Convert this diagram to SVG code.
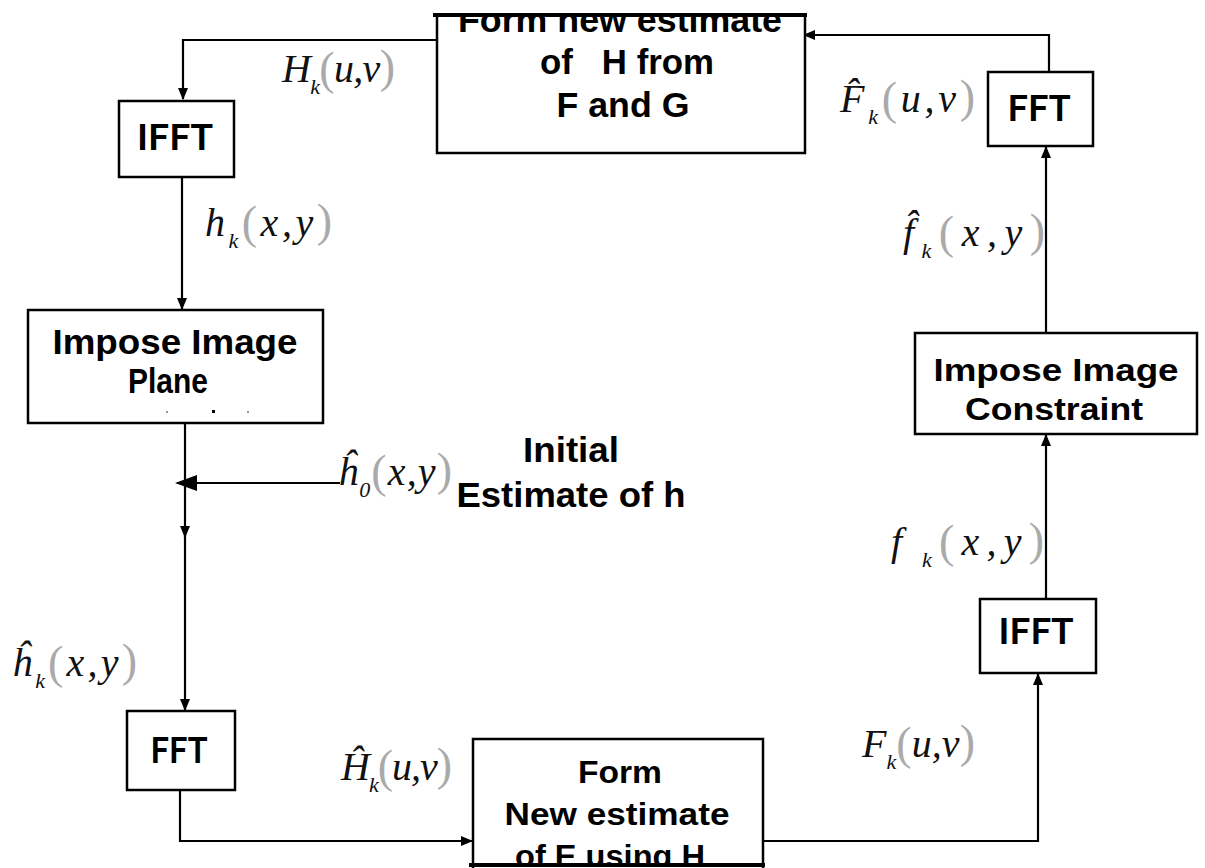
<svg xmlns="http://www.w3.org/2000/svg" width="1205" height="868" viewBox="0 0 1205 868">
<style>
.box{fill:#fff;stroke:#000;stroke-width:2.5}
.lbl{font-family:"Liberation Sans",Arial,sans-serif;font-weight:bold;font-size:35px;fill:#000}
.wide{font-size:32px}
.fft{font-family:Lato,"Liberation Sans",sans-serif;font-weight:bold;font-size:36px;fill:#000}
.math{font-family:"Liberation Serif","Times New Roman",serif;font-style:italic;font-size:40px;fill:#111}
.sub{font-size:22px}
.par{fill:#aaa;font-style:normal;font-size:46px}
.con{fill:none;stroke:#000;stroke-width:2.2}
</style>
<defs>
<marker id="ah" markerWidth="12" markerHeight="10" refX="11" refY="5" orient="auto" markerUnits="userSpaceOnUse">
<path d="M0,0 L12,5 L0,10 Z" fill="#000"/>
</marker>
<marker id="ahBig" markerWidth="22" markerHeight="16" refX="20" refY="8" orient="auto" markerUnits="userSpaceOnUse">
<path d="M0,0 L22,8 L0,16 Z" fill="#000"/>
</marker>
<clipPath id="clipTop"><rect x="430" y="17" width="380" height="140"/></clipPath>
<clipPath id="clipBot"><rect x="465" y="735" width="300" height="128"/></clipPath>
</defs>
<rect width="1205" height="868" fill="#fff"/>

<g id="connectors">
<path class="con" d="M437,40 H183 V99" marker-end="url(#ah)"/>
<path class="con" d="M182,177 V309" marker-end="url(#ah)"/>
<path class="con" d="M185,423 V537" marker-end="url(#ah)"/>
<path class="con" d="M185,530 V710" marker-end="url(#ah)"/>
<path class="con" d="M340,483 H177" marker-end="url(#ahBig)"/>
<path class="con" d="M180,790 V841 H472" marker-end="url(#ah)"/>
<path class="con" d="M760,841 H1038 V674" marker-end="url(#ah)"/>
<path class="con" d="M1046,599 V435" marker-end="url(#ah)"/>
<path class="con" d="M1046,333 V147" marker-end="url(#ah)"/>
<path class="con" d="M1049,72 V35 H804" marker-end="url(#ah)"/>
</g>

<g id="node-form-h">
<rect class="box" x="437" y="15" width="368" height="138"/>
<line x1="433" y1="15" x2="807" y2="15" stroke="#000" stroke-width="4"/>
<g clip-path="url(#clipTop)">
<text class="lbl" x="620" y="32" text-anchor="middle" textLength="324" lengthAdjust="spacingAndGlyphs">Form new estimate</text>
</g>
<text class="lbl" x="627" y="74" text-anchor="middle" textLength="174" lengthAdjust="spacingAndGlyphs" xml:space="preserve">of   H from</text>
<text class="lbl" x="623" y="117" text-anchor="middle" textLength="133" lengthAdjust="spacingAndGlyphs">F and G</text>
</g>

<g id="node-ifft-left">
<rect class="box" x="119" y="101" width="115" height="76"/>
<text class="fft" x="175" y="150" text-anchor="middle" textLength="76" lengthAdjust="spacingAndGlyphs">IFFT</text>
</g>

<g id="node-impose-plane">
<rect class="box" x="28" y="310" width="295" height="113"/>
<text class="lbl" x="175" y="354" text-anchor="middle" textLength="245" lengthAdjust="spacingAndGlyphs">Impose Image</text>
<text class="lbl" x="168" y="393" text-anchor="middle" textLength="80" lengthAdjust="spacingAndGlyphs">Plane</text>
<rect x="166" y="411" width="2" height="2" fill="#999"/>
<rect x="212" y="410" width="3" height="3" fill="#000"/>
<rect x="247" y="411" width="2" height="2" fill="#999"/>
</g>

<g id="node-initial">
<text class="lbl" x="571" y="462" text-anchor="middle" textLength="96" lengthAdjust="spacingAndGlyphs">Initial</text>
<text class="lbl" x="571" y="507" text-anchor="middle" textLength="229" lengthAdjust="spacingAndGlyphs">Estimate of h</text>
</g>

<g id="node-fft-left">
<rect class="box" x="127" y="711" width="108" height="79"/>
<text class="fft" x="179" y="763" text-anchor="middle" textLength="57" lengthAdjust="spacingAndGlyphs">FFT</text>
</g>

<g id="node-form-f">
<rect class="box" x="473" y="739" width="290" height="140"/>
<g clip-path="url(#clipBot)">
<text class="lbl wide" x="620" y="783" text-anchor="middle" textLength="84" lengthAdjust="spacingAndGlyphs">Form</text>
<text class="lbl wide" x="617" y="825" text-anchor="middle" textLength="225" lengthAdjust="spacingAndGlyphs">New estimate</text>
<text class="lbl wide" x="610" y="867" text-anchor="middle" textLength="190" lengthAdjust="spacingAndGlyphs">of E using H</text>
</g>
<line x1="469" y1="865" x2="765" y2="865" stroke="#000" stroke-width="4"/>
</g>

<g id="node-ifft-right">
<rect class="box" x="980" y="599" width="116" height="74"/>
<text class="fft" x="1036" y="644" text-anchor="middle" textLength="75" lengthAdjust="spacingAndGlyphs">IFFT</text>
</g>

<g id="node-impose-constraint">
<rect class="box" x="915" y="333" width="282" height="101"/>
<text class="lbl wide" x="1056" y="381" text-anchor="middle" textLength="245" lengthAdjust="spacingAndGlyphs">Impose Image</text>
<text class="lbl wide" x="1054" y="420" text-anchor="middle" textLength="178" lengthAdjust="spacingAndGlyphs">Constraint</text>
</g>

<g id="node-fft-right">
<rect class="box" x="988" y="72" width="105" height="74"/>
<text class="fft" x="1039" y="121" text-anchor="middle" textLength="63" lengthAdjust="spacingAndGlyphs">FFT</text>
</g>

<g id="labels">
<text class="math" x="282" y="82" textLength="113" lengthAdjust="spacing">H<tspan class="sub" dy="12">k</tspan><tspan class="par" dy="-10">(</tspan><tspan dy="-2">u,v</tspan><tspan class="par">)</tspan></text>
<text class="math" x="840" y="112" textLength="135" lengthAdjust="spacing">F̂<tspan class="sub" dy="12">k</tspan><tspan class="par" dy="-10">(</tspan><tspan dy="-2">u,v</tspan><tspan class="par">)</tspan></text>
<text class="math" x="903" y="246" textLength="142" lengthAdjust="spacing">f̂<tspan class="sub" dy="12">k</tspan><tspan class="par" dy="-10">(</tspan><tspan dy="-2">x,y</tspan><tspan class="par">)</tspan></text>
<text class="math" x="205" y="236" textLength="127" lengthAdjust="spacing">h<tspan class="sub" dy="12">k</tspan><tspan class="par" dy="-10">(</tspan><tspan dy="-2">x,y</tspan><tspan class="par">)</tspan></text>
<text class="math" x="338" y="485" textLength="114" lengthAdjust="spacing">ĥ<tspan class="sub" dy="12">0</tspan><tspan class="par" dy="-10">(</tspan><tspan dy="-2">x,y</tspan><tspan class="par">)</tspan></text>
<text class="math" x="891" y="555" textLength="153" lengthAdjust="spacing">f<tspan class="sub" dy="12"> k</tspan><tspan class="par" dy="-10">(</tspan><tspan dy="-2">x,y</tspan><tspan class="par">)</tspan></text>
<text class="math" x="12" y="676" textLength="125" lengthAdjust="spacing">ĥ<tspan class="sub" dy="12">k</tspan><tspan class="par" dy="-10">(</tspan><tspan dy="-2">x,y</tspan><tspan class="par">)</tspan></text>
<text class="math" x="341" y="780" textLength="111" lengthAdjust="spacing">Ĥ<tspan class="sub" dy="12">k</tspan><tspan class="par" dy="-10">(</tspan><tspan dy="-2">u,v</tspan><tspan class="par">)</tspan></text>
<text class="math" x="862" y="757" textLength="113" lengthAdjust="spacing">F<tspan class="sub" dy="12">k</tspan><tspan class="par" dy="-10">(</tspan><tspan dy="-2">u,v</tspan><tspan class="par">)</tspan></text>
</g>
</svg>
